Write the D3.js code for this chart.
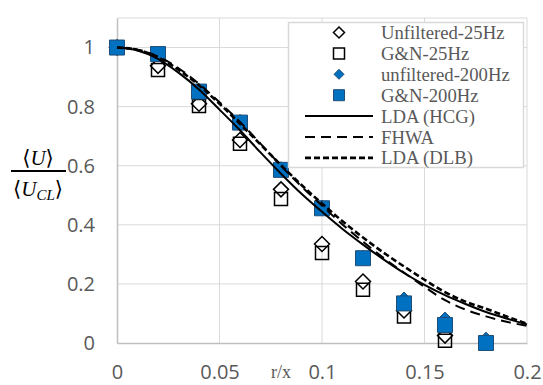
<!DOCTYPE html>
<html lang="en">
<head>
  <meta charset="UTF-8">
  <title>Velocity profile</title>
  <style>
    body { margin: 0; background: #fff; }
    svg { display: block; }
    .tick text { font-family: 'Open Sans', sans-serif; font-size: 20px; fill: #595959; }
    .legend text { font-family: 'Liberation Serif', 'Times New Roman', serif; font-size: 18.7px; fill: #595959; }
  </style>
  <script src="https://d3js.org/d3.v7.min.js"></script>
</head>
<body>
  <svg></svg>
  <script>
    // measured points (r/x)
    const rx = [0, 0.02, 0.04, 0.06, 0.08, 0.10, 0.12, 0.14, 0.16, 0.18];
    const unf25 = [1.0, 0.938, 0.81, 0.687, 0.52, 0.335, 0.208, 0.11, 0.025, null];
    const gn25 = [1.0, 0.924, 0.802, 0.674, 0.487, 0.305, 0.18, 0.09, 0.008, null];
    const unf200 = [1.0, 0.98, 0.855, 0.75, 0.59, 0.46, 0.29, 0.149, 0.081, 0.013];
    const gn200 = [1.0, 0.978, 0.851, 0.746, 0.586, 0.456, 0.287, 0.134, 0.061, 0.0];

    // reference curves
    const lineX = [0, 0.01, 0.02, 0.03, 0.04, 0.05, 0.06, 0.07, 0.08, 0.09, 0.10,
                   0.11, 0.12, 0.13, 0.14, 0.15, 0.16, 0.17, 0.18, 0.19, 0.20];
    const hcg = [1.0, 0.99, 0.962, 0.915, 0.858, 0.79, 0.72, 0.645, 0.573, 0.505, 0.444,
                 0.386, 0.333, 0.283, 0.237, 0.197, 0.162, 0.132, 0.105, 0.083, 0.063];
    const fhwa = [1.0, 0.993, 0.97, 0.93, 0.877, 0.815, 0.748, 0.675, 0.6, 0.53, 0.465,
                  0.401, 0.343, 0.288, 0.238, 0.19, 0.145, 0.113, 0.09, 0.072, 0.058];
    const dlb = [1.0, 0.992, 0.967, 0.925, 0.872, 0.81, 0.742, 0.672, 0.602, 0.535, 0.472,
                 0.412, 0.357, 0.306, 0.259, 0.214, 0.172, 0.14, 0.116, 0.09, 0.065];

    const xTicks = [0, 0.05, 0.1, 0.15, 0.2];
    const yTicks = [0, 0.2, 0.4, 0.6, 0.8, 1];

    const width = 543, height = 385;
    const pLeft = 117, pRight = 527, pTop = 18, pBottom = 343;

    const svg = d3.select("svg").attr("width", width).attr("height", height);

    const x = d3.scaleLinear().domain([0, 0.2]).range([pLeft, pRight]);
    const y = d3.scaleLinear().domain([0, 1.1]).range([pBottom, pTop]);

    // gridlines
    svg.append("g").selectAll("line").data(xTicks.slice(1)).join("line")
      .attr("x1", d => x(d)).attr("x2", d => x(d))
      .attr("y1", pTop).attr("y2", pBottom)
      .attr("stroke", "#d9d9d9").attr("stroke-width", 1);
    svg.append("g").selectAll("line").data(yTicks.slice(1).concat([1.1])).join("line")
      .attr("x1", pLeft).attr("x2", pRight)
      .attr("y1", d => y(d)).attr("y2", d => y(d))
      .attr("stroke", "#d9d9d9").attr("stroke-width", 1);

    // axes
    const xAxis = svg.append("g").attr("transform", `translate(0,${pBottom})`)
      .call(d3.axisBottom(x).tickValues(xTicks).tickSize(0).tickPadding(22).tickFormat(d3.format("~g")));
    xAxis.select(".domain").attr("stroke", "#bfbfbf").attr("stroke-width", 1.5);
    const yAxis = svg.append("g").attr("transform", `translate(${pLeft},0)`)
      .call(d3.axisLeft(y).tickValues(yTicks).tickSize(0).tickPadding(22).tickFormat(d3.format("~g")));
    yAxis.select(".domain").attr("stroke", "#bfbfbf").attr("stroke-width", 1.5);

    // markers
    const sq = d3.symbol().type(d3.symbolSquare);
    const dia = (s) => `M0,${-s}L${s},0L0,${s}L${-s},0Z`;

    function points(vals, shape, fill, stroke, sw) {
      const pts = rx.map((r, i) => [r, vals[i]]).filter(d => d[1] != null);
      svg.append("g").selectAll("path").data(pts).join("path")
        .attr("transform", d => `translate(${x(d[0])},${y(d[1])})`)
        .attr("d", shape)
        .attr("fill", fill).attr("stroke", stroke).attr("stroke-width", sw);
    }
    points(unf25, dia(7.5), "#fff", "#000", 1.5);
    points(gn25, sq.size(13 * 13)(), "none", "#000", 1.5);
    points(unf200, dia(7), "#0070c0", "#1f4e79", 1);
    points(gn200, sq.size(15 * 15)(), "#0070c0", "#1f4e79", 1);

    // curves
    const line = d3.line().x(d => x(d[0])).y(d => y(d[1])).curve(d3.curveMonotoneX);
    const curves = [
      { v: hcg, dash: null, w: 2 },
      { v: fhwa, dash: "10,6", w: 2 },
      { v: dlb, dash: "6,3", w: 2.6 }
    ];
    curves.forEach(c => {
      svg.append("path")
        .attr("d", line(lineX.map((r, i) => [r, c.v[i]])))
        .attr("fill", "none").attr("stroke", "#000")
        .attr("stroke-width", c.w)
        .attr("stroke-dasharray", c.dash);
    });

    // legend
    const lg = svg.append("g").attr("class", "legend");
    lg.append("rect").attr("x", 288.5).attr("y", 22.5).attr("width", 235).attr("height", 145)
      .attr("fill", "#fff").attr("stroke", "#d9d9d9").attr("stroke-width", 1.5);
    const items = [
      { name: "Unfiltered-25Hz", kind: "m", d: dia(5.5), fill: "#fff", stroke: "#000", sw: 1.5 },
      { name: "G&N-25Hz", kind: "m", d: sq.size(11 * 11)(), fill: "#fff", stroke: "#000", sw: 1.5 },
      { name: "unfiltered-200Hz", kind: "m", d: dia(5), fill: "#0070c0", stroke: "#1f4e79", sw: 1 },
      { name: "G&N-200Hz", kind: "m", d: sq.size(11 * 11)(), fill: "#0070c0", stroke: "#1f4e79", sw: 1 },
      { name: "LDA (HCG)", kind: "l", dash: null, w: 2 },
      { name: "FHWA", kind: "l", dash: "10,6", w: 2 },
      { name: "LDA (DLB)", kind: "l", dash: "6,3", w: 2.6 }
    ];
    items.forEach((it, i) => {
      const cy = 32.5 + i * 20.9;
      if (it.kind === "m") {
        lg.append("path").attr("transform", `translate(339,${cy})`).attr("d", it.d)
          .attr("fill", it.fill).attr("stroke", it.stroke).attr("stroke-width", it.sw);
      } else {
        lg.append("line").attr("x1", 305).attr("x2", 373).attr("y1", cy).attr("y2", cy)
          .attr("stroke", "#000").attr("stroke-width", it.w).attr("stroke-dasharray", it.dash);
      }
      lg.append("text").attr("x", 381).attr("y", cy).attr("dy", "0.35em").text(it.name);
    });

    // axis titles
    svg.append("text").attr("x", 271).attr("y", 378)
      .attr("font-family", "'Liberation Serif', serif").attr("font-size", 18).attr("fill", "#595959")
      .text("r/x");

    const yl = svg.append("g").attr("font-family", "'Liberation Serif', 'DejaVu Serif', serif")
      .attr("font-size", 21).attr("fill", "#000").attr("text-anchor", "middle");
    yl.append("text").attr("x", 38).attr("y", 165)
      .html('⟨<tspan font-style="italic">U</tspan>⟩');
    yl.append("line").attr("x1", 11).attr("x2", 66).attr("y1", 171).attr("y2", 171)
      .attr("stroke", "#000").attr("stroke-width", 2);
    yl.append("text").attr("x", 38).attr("y", 196)
      .html('⟨<tspan font-style="italic">U</tspan><tspan font-style="italic" font-size="15" dy="4">CL</tspan><tspan dy="-4">⟩</tspan>');
  </script>
</body>
</html>
